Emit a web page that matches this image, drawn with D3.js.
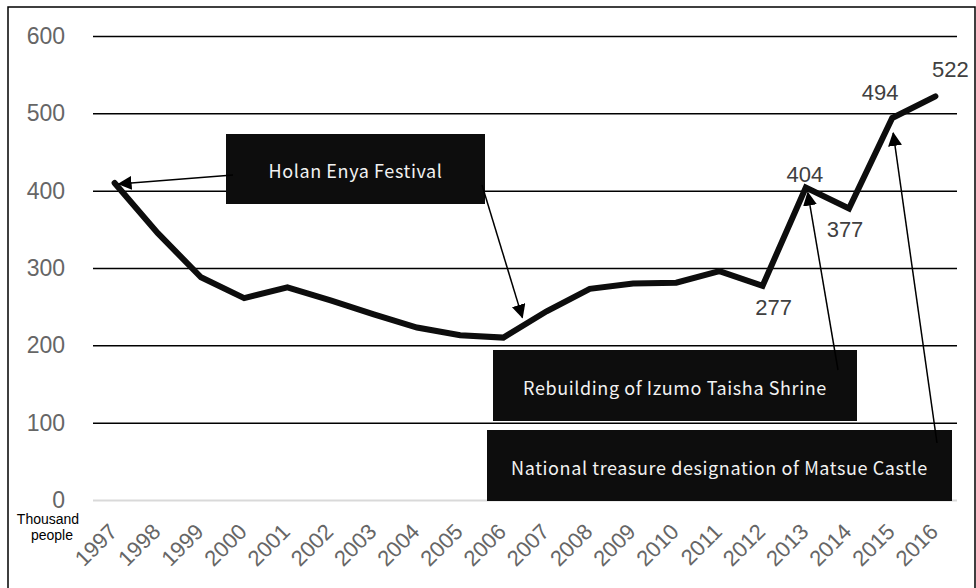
<!DOCTYPE html>
<html>
<head>
<meta charset="utf-8">
<script src="https://cdn.jsdelivr.net/npm/d3@7"></script>
<style>
  html, body { margin: 0; padding: 0; background: #fff; }
  svg { display: block; }
</style>
</head>
<body>
<svg id="chart" width="976" height="588"></svg>
<script>
// Visitors per year (thousand people)
const years = ["1997","1998","1999","2000","2001","2002","2003","2004","2005","2006",
               "2007","2008","2009","2010","2011","2012","2013","2014","2015","2016"];
const visitors = [410, 345, 288, 261, 275, 258, 240, 223, 213, 210,
                  244, 273, 280, 281, 296, 277, 404, 377, 494, 522];
const yTicks = [0, 100, 200, 300, 400, 500, 600];
const labelledYears = ["2012", "2013", "2014", "2015", "2016"];
const unitLabel = ["Thousand", "people"];

// Event callouts and the year each one points at
const eventNames = ["Holan Enya Festival", "Holan Enya Festival",
                    "Rebuilding of Izumo Taisha Shrine",
                    "National treasure designation of Matsue Castle"];
const eventYears = ["1997", "2006", "2013", "2015"];

const svg = d3.select("#chart");
const plot = { left: 93, right: 957, top: 36, bottom: 500 };
const labelFont = "'Liberation Sans', Arial, sans-serif";

const x = d3.scalePoint().domain(years).range([plot.left, plot.right]).padding(0.5);
const y = d3.scaleLinear().domain([0, 600]).range([plot.bottom, plot.top]);

// outer frame
svg.append("rect")
  .attr("x", 8).attr("y", 7).attr("width", 967).attr("height", 600)
  .attr("fill", "#fff").attr("stroke", "#000").attr("stroke-width", 1.5);

// horizontal gridlines + value labels
const yAxis = d3.axisLeft(y).tickValues(yTicks).tickSize(-(plot.right - plot.left)).tickPadding(28);
const gy = svg.append("g").attr("transform", `translate(${plot.left},0)`).call(yAxis);
gy.select(".domain").remove();
gy.selectAll(".tick line")
  .attr("stroke", d => d === 0 ? "#d9d9d9" : "#000")
  .attr("stroke-width", d => d === 0 ? 2 : 1.5);
gy.selectAll(".tick text")
  .attr("fill", "#666")
  .style("font-family", labelFont)
  .style("font-size", "23px");

// year labels, rotated 45 degrees below the zero line
svg.append("g").selectAll("text").data(years).join("text")
  .attr("transform", d => `translate(${x(d) + 4},${plot.bottom + 33}) rotate(-45)`)
  .attr("text-anchor", "end")
  .attr("fill", "#666")
  .style("font-family", labelFont)
  .style("font-size", "22px")
  .text(d => d);

// unit caption under the zero label
svg.append("text")
  .attr("y", 524)
  .attr("text-anchor", "middle")
  .attr("fill", "#000")
  .style("font-family", labelFont)
  .style("font-size", "14px")
  .selectAll("tspan").data(unitLabel).join("tspan")
  .attr("x", (d, i) => i === 0 ? 48 : 52)
  .attr("dy", (d, i) => i === 0 ? 0 : 16)
  .text(d => d);

// visitor line
const line = d3.line().x((d, i) => x(years[i])).y(d => y(d));
svg.append("path")
  .datum(visitors)
  .attr("d", line)
  .attr("fill", "none")
  .attr("stroke", "#0d0d0d")
  .attr("stroke-width", 6)
  .attr("stroke-linejoin", "miter")
  .attr("stroke-linecap", "round");

// value labels on recent years
const labelOffset = {
  "2012": [11, 22], "2013": [-1, -13], "2014": [-4, 21], "2015": [-12, -25], "2016": [15, -27]
};
svg.append("g").selectAll("text").data(labelledYears).join("text")
  .attr("x", d => x(d) + labelOffset[d][0])
  .attr("y", d => y(visitors[years.indexOf(d)]) + labelOffset[d][1])
  .attr("text-anchor", "middle")
  .attr("dominant-baseline", "central")
  .attr("fill", "#404040")
  .style("font-family", labelFont)
  .style("font-size", "22px")
  .text(d => visitors[years.indexOf(d)]);

// callout boxes
const boxes = [
  { name: eventNames[0], x0: 226, y0: 134, x1: 485, y1: 204 },
  { name: eventNames[2], x0: 493, y0: 350, x1: 857, y1: 421 },
  { name: eventNames[3], x0: 487, y0: 430, x1: 952, y1: 501 }
];
const gb = svg.append("g");
gb.selectAll("rect").data(boxes).join("rect")
  .attr("x", d => d.x0).attr("y", d => d.y0)
  .attr("width", d => d.x1 - d.x0).attr("height", d => d.y1 - d.y0)
  .attr("fill", "#0d0d0d");
gb.selectAll("text").data(boxes).join("text")
  .attr("x", d => (d.x0 + d.x1) / 2)
  .attr("y", d => (d.y0 + d.y1) / 2 + 1)
  .attr("text-anchor", "middle")
  .attr("dominant-baseline", "central")
  .attr("fill", "#f2f2f2")
  .style("font-family", "'Noto Sans CJK JP', 'Noto Sans', sans-serif")
  .style("font-size", "18px")
  .style("letter-spacing", "0.6px")
  .text(d => d.name);

// arrow head
svg.append("defs").append("marker")
  .attr("id", "head")
  .attr("viewBox", "0 0 14 14")
  .attr("refX", 13).attr("refY", 7)
  .attr("markerWidth", 14).attr("markerHeight", 14)
  .attr("markerUnits", "userSpaceOnUse")
  .attr("orient", "auto")
  .append("path").attr("d", "M0,0 L14,7 L0,14 Z").attr("fill", "#000");

// arrows from each callout to its year on the line
const arrowStart = [[233, 175], [482, 185], [838, 370], [937, 443]];
const tipOffset = [[4, 1], [19, -20], [2, 5], [1, 15]];
svg.append("g").selectAll("line").data(eventYears).join("line")
  .attr("x1", (d, i) => arrowStart[i][0])
  .attr("y1", (d, i) => arrowStart[i][1])
  .attr("x2", (d, i) => x(d) + tipOffset[i][0])
  .attr("y2", (d, i) => y(visitors[years.indexOf(d)]) + tipOffset[i][1])
  .attr("stroke", "#000")
  .attr("stroke-width", 1.5)
  .attr("marker-end", "url(#head)");
</script>
</body>
</html>
